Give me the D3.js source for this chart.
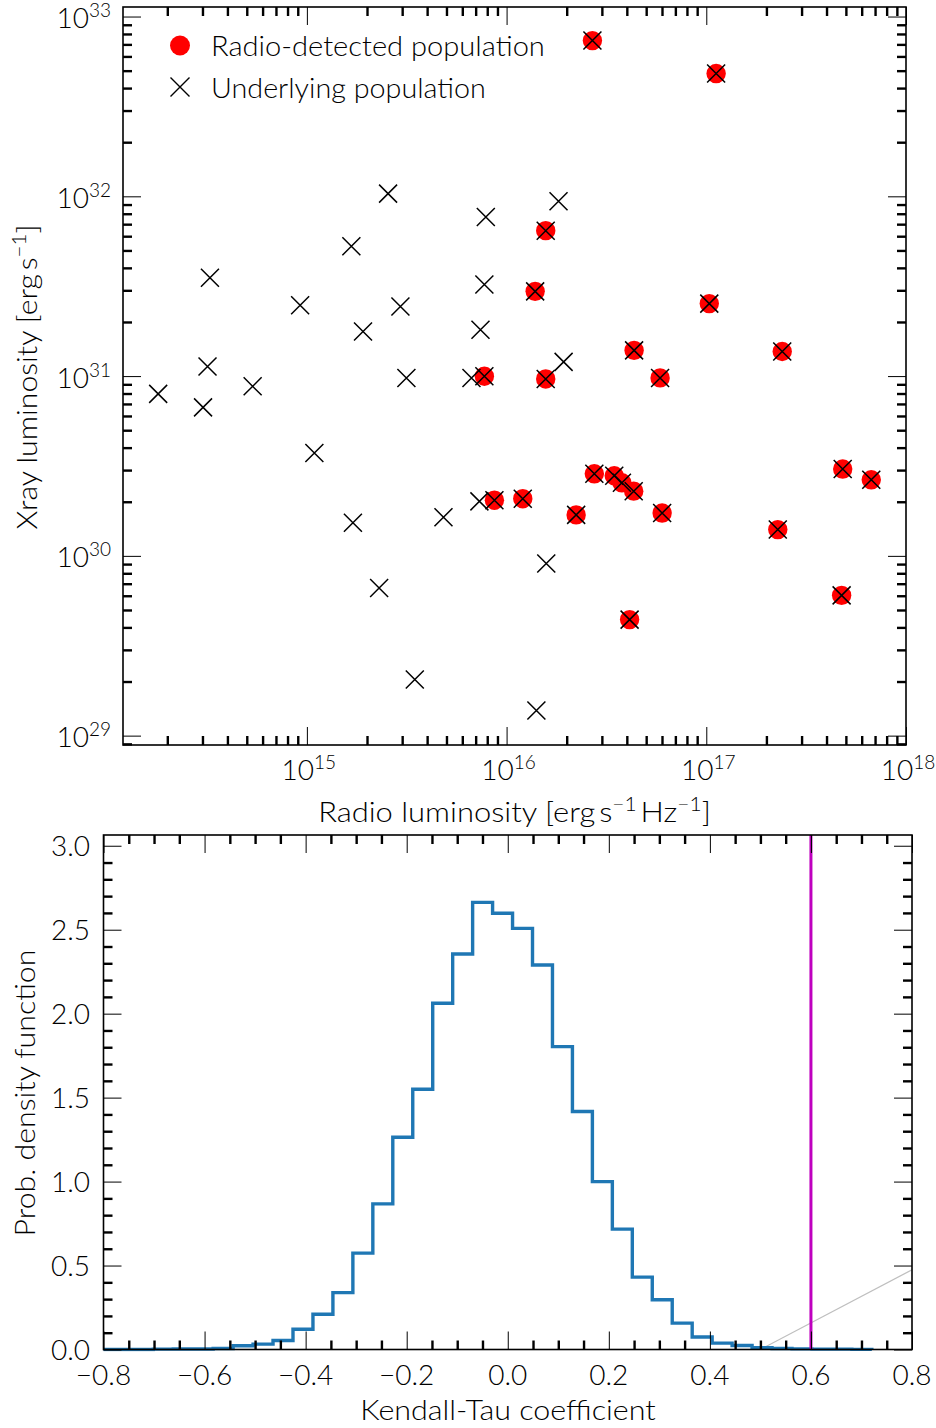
<!DOCTYPE html>
<html><head><meta charset="utf-8">
<script src="https://cdn.jsdelivr.net/npm/d3@7"></script>
<style>
body{margin:0;background:#fff}
svg text{font-family:Lato,"DejaVu Sans",sans-serif;font-weight:300;fill:#000}
</style>
</head><body>
<svg id="fig" width="936" height="1428"></svg>
<script>
// ---------- Top panel data ----------
// Radio-detected population (red dots)
const detRadio = [2.69e16, 1.12e17, 1.57e16, 1.39e16, 1.035e17, 4.35e16, 2.40e17, 7.74e15, 1.57e16, 5.87e16,
                  4.82e17, 6.70e17, 2.75e16, 3.46e16, 3.78e16, 4.33e16, 8.69e15, 1.205e16, 2.23e16, 6.01e16,
                  2.28e17, 4.76e17, 4.13e16];
const detXray  = [7.35e32, 4.82e32, 6.44e31, 2.96e31, 2.53e31, 1.39e31, 1.37e31, 9.98e30, 9.64e30, 9.77e30,
                  3.04e30, 2.65e30, 2.86e30, 2.79e30, 2.55e30, 2.29e30, 2.04e30, 2.08e30, 1.69e30, 1.73e30,
                  1.40e30, 6.03e29, 4.42e29];
// Underlying population members that are not radio detected (crosses only)
const undRadio = [2.55e15, 1.67e15, 3.27e14, 9.25e14, 2.94e15, 1.91e15, 3.18e14, 3.15e15, 1.80e14, 5.35e14,
                  3.02e14, 1.82e16, 7.87e15, 7.74e15, 7.40e15, 1.93e16, 6.67e15, 1.09e15, 1.70e15, 4.83e15,
                  2.30e15, 3.47e15, 7.31e15, 1.58e16, 1.41e16];
const undXray  = [1.035e32, 5.27e31, 3.52e31, 2.48e31, 2.44e31, 1.77e31, 1.13e31, 9.77e30, 7.96e30, 8.77e30,
                  6.70e30, 9.38e31, 7.67e31, 3.23e31, 1.81e31, 1.20e31, 9.77e30, 3.73e30, 1.53e30, 1.64e30,
                  6.62e29, 2.05e29, 2.01e30, 9.06e29, 1.38e29];
const radioTicks = [1e15, 1e16, 1e17, 1e18];
const xrayTicks = [1e29, 1e30, 1e31, 1e32, 1e33];
const legendLabels = ["Radio-detected population", "Underlying population"];

// ---------- Bottom panel data ----------
const tauBinStart = -0.82;
const tauBinWidth = 0.0395;
const tauDensity = [0.0, 0.0, 0.0, 0.002, 0.003, 0.003, 0.006, 0.022, 0.032, 0.054,
                    0.121, 0.21, 0.339, 0.574, 0.867, 1.264, 1.55, 2.062, 2.355, 2.663,
                    2.598, 2.508, 2.29, 1.804, 1.417, 1.0, 0.717, 0.431, 0.296, 0.157,
                    0.074, 0.038, 0.024, 0.01, 0.006, 0.004, 0.002, 0.002, 0.001];
const observedTau = 0.6;
const greyLineX = [0.5, 0.8];
const greyLineY = [0.0, 0.475];
const tauTicks = [-0.8, -0.6, -0.4, -0.2, 0.0, 0.2, 0.4, 0.6, 0.8];
const pdfTicks = [0.0, 0.5, 1.0, 1.5, 2.0, 2.5, 3.0];

const svg = d3.select("#fig");
const FS = 28, SUP = 19;
const minus = s => s.replace("-", "\u2212");

function ticks(g, axisFn, scale, values, len, width, transform) {
  const a = axisFn(scale).tickValues(values).tickSizeInner(-len).tickSizeOuter(0).tickFormat("");
  const s = g.append("g").attr("transform", transform).call(a);
  s.select(".domain").remove();
  s.selectAll("line").attr("stroke", "#000").attr("stroke-width", width);
  s.selectAll("text").remove();
}
function fitText(textSel, target) {
  const w = textSel.node().getBBox().width;
  return target / w;
}

// ================= TOP PANEL =================
const T = {l: 123, r: 906, t: 7, b: 745};
const xT = d3.scaleLog().domain([1.2e14, 1e18]).range([T.l, T.r]);
const yT = d3.scaleLog().domain([8.87e28, 1.13e33]).range([T.b, T.t]);
const gT = svg.append("g");
svg.append("clipPath").attr("id", "clipT").append("rect")
  .attr("x", T.l).attr("y", T.t).attr("width", T.r - T.l).attr("height", T.b - T.t);

const isDecade = v => Math.abs(Math.log10(v) - Math.round(Math.log10(v))) < 1e-6;
const xMinor = xT.ticks(10).filter(v => !isDecade(v));
const yMinor = yT.ticks(10).filter(v => !isDecade(v));
const xMajor = xT.ticks(10).filter(isDecade);
const yMajor = yT.ticks(10).filter(isDecade);

ticks(gT, d3.axisBottom, xT, xMajor, 18, 1, `translate(0,${T.b})`);
ticks(gT, d3.axisTop, xT, xMajor, 18, 1, `translate(0,${T.t})`);
ticks(gT, d3.axisBottom, xT, xMinor, 9, 2.4, `translate(0,${T.b})`);
ticks(gT, d3.axisTop, xT, xMinor, 9, 2.4, `translate(0,${T.t})`);
ticks(gT, d3.axisLeft, yT, yMajor, 18, 1, `translate(${T.l},0)`);
ticks(gT, d3.axisRight, yT, yMajor, 18, 1, `translate(${T.r},0)`);
ticks(gT, d3.axisLeft, yT, yMinor, 9, 2.4, `translate(${T.l},0)`);
ticks(gT, d3.axisRight, yT, yMinor, 9, 2.4, `translate(${T.r},0)`);

// tick labels
radioTicks.forEach(v => {
  const t = gT.append("text").attr("x", xT(v) + 2).attr("y", 780).attr("text-anchor", "middle").attr("font-size", FS);
  t.append("tspan").text("10");
  t.append("tspan").attr("font-size", SUP).attr("dy", -11).text(Math.round(Math.log10(v)));
});
xrayTicks.forEach(v => {
  const t = gT.append("text").attr("x", 111).attr("y", yT(v) + 11.5).attr("text-anchor", "end").attr("font-size", FS);
  t.append("tspan").text("10");
  t.append("tspan").attr("font-size", SUP).attr("dy", -11).text(Math.round(Math.log10(v)));
});

// axis labels
{
  const g = gT.append("g");
  const t = g.append("text").attr("text-anchor", "middle").attr("font-size", FS);
  t.append("tspan").text("Radio luminosity [erg\u2009s");
  t.append("tspan").attr("font-size", SUP).attr("dy", -11).text("\u22121");
  t.append("tspan").attr("dy", 11).text("\u2009Hz");
  t.append("tspan").attr("font-size", SUP).attr("dy", -11).text("\u22121");
  t.append("tspan").attr("dy", 11).text("]");
  const s = fitText(t, 393);
  g.attr("transform", `translate(514.5,822) scale(${s},1)`);
}
{
  const g = gT.append("g");
  const t = g.append("text").attr("text-anchor", "middle").attr("font-size", FS);
  t.append("tspan").text("Xray luminosity [erg\u2009s");
  t.append("tspan").attr("font-size", SUP).attr("dy", -11).text("\u22121");
  t.append("tspan").attr("dy", 11).text("]");
  const s = fitText(t, 305);
  g.attr("transform", `translate(37,377) rotate(-90) scale(${s},1)`);
}

// points
const pts = gT.append("g").attr("clip-path", "url(#clipT)");
pts.selectAll("circle.det").data(d3.range(detRadio.length)).join("circle")
  .attr("class", "det")
  .attr("cx", i => xT(detRadio[i])).attr("cy", i => yT(detXray[i])).attr("r", 9.7).attr("fill", "#ff0000");
const allRadio = undRadio.concat(detRadio);
const allXray = undXray.concat(detXray);
const crossPath = (cx, cy, h) => `M${cx-h},${cy-h}L${cx+h},${cy+h}M${cx-h},${cy+h}L${cx+h},${cy-h}`;
pts.selectAll("path.und").data(d3.range(allRadio.length)).join("path")
  .attr("class", "und")
  .attr("d", i => crossPath(xT(allRadio[i]), yT(allXray[i]), 9))
  .attr("stroke", "#000").attr("stroke-width", 1.5).attr("fill", "none");

// legend
gT.append("circle").attr("cx", 180).attr("cy", 45.5).attr("r", 10).attr("fill", "#ff0000");
gT.append("path").attr("d", crossPath(180, 87, 9.5)).attr("stroke", "#000").attr("stroke-width", 1.4).attr("fill", "none");
[[legendLabels[0], 56, 334], [legendLabels[1], 98, 275]].forEach(([txt, y, w]) => {
  const g = gT.append("g");
  const t = g.append("text").attr("font-size", FS).text(txt);
  const s = fitText(t, w);
  g.attr("transform", `translate(211,${y}) scale(${s},1)`);
});

gT.append("rect").attr("x", T.l).attr("y", T.t).attr("width", T.r - T.l).attr("height", T.b - T.t)
  .attr("fill", "none").attr("stroke", "#000").attr("stroke-width", 1.6);

// ================= BOTTOM PANEL =================
const B = {l: 103.5, r: 912, t: 835, b: 1349.5};
const xB = d3.scaleLinear().domain([-0.8, 0.8]).range([B.l, B.r]);
const yB = d3.scaleLinear().domain([0, 3.064]).range([B.b, B.t]);
const gB = svg.append("g");
svg.append("clipPath").attr("id", "clipB").append("rect")
  .attr("x", B.l).attr("y", B.t - 2).attr("width", B.r - B.l).attr("height", B.b - B.t + 4);

const near = (a, arr) => arr.some(b => Math.abs(a - b) < 1e-6);
const xBMinor = xB.ticks(32).filter(v => !near(v, tauTicks));
const yBMinor = yB.ticks(30).filter(v => !near(v, pdfTicks));

// histogram step line
const edges = tauDensity.map((d, i) => tauBinStart + i * tauBinWidth);
const stepPts = [[tauBinStart, 0]];
tauDensity.forEach((d, i) => {
  stepPts.push([edges[i], d]);
  stepPts.push([edges[i] + tauBinWidth, d]);
});
stepPts.push([tauBinStart + tauDensity.length * tauBinWidth, 0]);
const line = d3.line().x(d => xB(d[0])).y(d => yB(d[1]));
const plotB = gB.append("g").attr("clip-path", "url(#clipB)");
plotB.append("path").datum(d3.zip(greyLineX, greyLineY)).attr("d", line)
  .attr("stroke", "#bfbfbf").attr("stroke-width", 1.2).attr("fill", "none");
plotB.append("path").datum(stepPts).attr("d", line)
  .attr("stroke", "#1f77b4").attr("stroke-width", 3.4).attr("fill", "none").attr("stroke-linejoin", "miter");
plotB.append("line").attr("x1", xB(observedTau)).attr("x2", xB(observedTau))
  .attr("y1", B.t).attr("y2", B.b).attr("stroke", "#bf00bf").attr("stroke-width", 3);

ticks(gB, d3.axisBottom, xB, tauTicks, 18, 1, `translate(0,${B.b})`);
ticks(gB, d3.axisTop, xB, tauTicks, 18, 1, `translate(0,${B.t})`);
ticks(gB, d3.axisBottom, xB, xBMinor, 9, 2.4, `translate(0,${B.b})`);
ticks(gB, d3.axisTop, xB, xBMinor, 9, 2.4, `translate(0,${B.t})`);
ticks(gB, d3.axisLeft, yB, pdfTicks, 18, 1, `translate(${B.l},0)`);
ticks(gB, d3.axisRight, yB, pdfTicks, 18, 1, `translate(${B.r},0)`);
ticks(gB, d3.axisLeft, yB, yBMinor, 9, 2.4, `translate(${B.l},0)`);
ticks(gB, d3.axisRight, yB, yBMinor, 9, 2.4, `translate(${B.r},0)`);

tauTicks.forEach(v => {
  gB.append("text").attr("x", xB(v)).attr("y", 1385).attr("text-anchor", "middle").attr("font-size", FS)
    .text(minus(v.toFixed(1)));
});
pdfTicks.forEach(v => {
  gB.append("text").attr("x", 90).attr("y", yB(v) + 10.5).attr("text-anchor", "end").attr("font-size", FS)
    .text(v.toFixed(1));
});
{
  const g = gB.append("g");
  const t = g.append("text").attr("text-anchor", "middle").attr("font-size", FS).text("Kendall-Tau coefficient");
  const s = fitText(t, 296);
  g.attr("transform", `translate(508,1420) scale(${s},1)`);
}
{
  const g = gB.append("g");
  const t = g.append("text").attr("text-anchor", "middle").attr("font-size", FS).text("Prob. density function");
  const s = fitText(t, 287);
  g.attr("transform", `translate(35,1093) rotate(-90) scale(${s},1)`);
}
gB.append("rect").attr("x", B.l).attr("y", B.t).attr("width", B.r - B.l).attr("height", B.b - B.t)
  .attr("fill", "none").attr("stroke", "#000").attr("stroke-width", 1.6);
</script>
</body></html>
